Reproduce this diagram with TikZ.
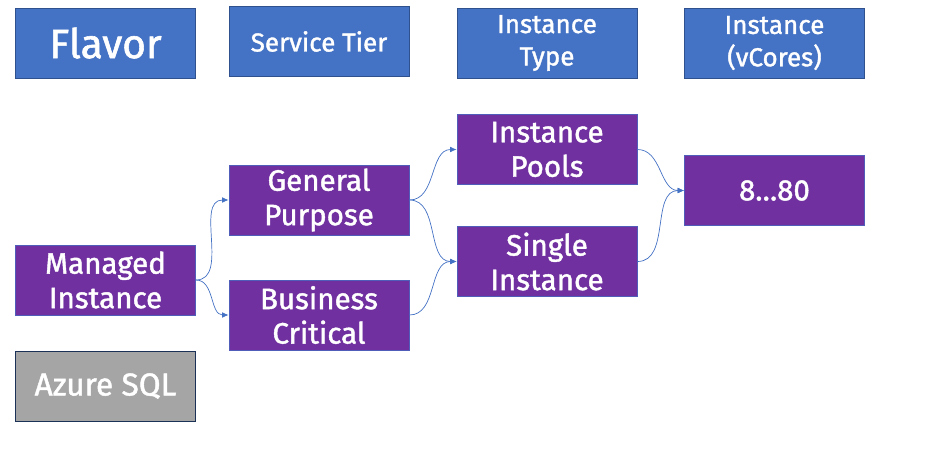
\documentclass[tikz,border=0pt]{standalone}
\usepackage{fontspec}
\setmainfont{Fira Sans}[FakeBold=1.4, AutoFakeBold=1.4]
\usetikzlibrary{arrows.meta, positioning}
\definecolor{hdrblue}{HTML}{4472C4}
\definecolor{hdredge}{HTML}{2F528F}
\definecolor{tierpurple}{HTML}{7030A0}
\definecolor{sqlgray}{HTML}{A5A5A5}
\tikzset{
	box/.style={rectangle, minimum width=4.5cm, minimum height=1.75cm, inner sep=0pt, align=center, text=white, line width=0.6pt},
	header/.style={box, fill=hdrblue, draw=hdredge, font=\bfseries\fontsize{18.5}{23}\selectfont},
	choice/.style={box, fill=tierpurple, draw=hdrblue!70!tierpurple, font=\bfseries\fontsize{21}{24.5}\selectfont},
	flow/.style={-{Latex[length=1.6mm,width=1.4mm]}, draw=hdrblue, line width=0.5pt}
}

\begin{document}
\begin{tikzpicture}[x=0.025cm, y=-0.025cm]% Azure SQL Managed Instance choices
	\useasboundingbox (0,0) rectangle (948,468);
	% header row
	\node[header, font=\bfseries\fontsize{29}{30}\selectfont] (flavor) at (105.5,43) {Flavor};
	\node[header] (tier) at (319,41.5) {Service Tier};
	\node[header] (type) at (547,43) {Instance\\Type};
	\node[header] (vcores) at (774.5,43) {Instance\\(vCores)};
	% choices
	\node[choice] (managed) at (105.5,280) {Managed\\Instance};
	\node[box, fill=sqlgray, draw=hdredge!60!black, font=\bfseries\fontsize{22.5}{24}\selectfont] (azure) at (105.5,386) {Azure SQL};
	\node[choice] (general) at (319,200) {General\\Purpose};
	\node[choice] (business) at (319,315) {Business\\Critical};
	\node[choice] (pools) at (547,149.5) {Instance\\Pools};
	\node[choice] (single) at (547,261.5) {Single\\Instance};
	\node[choice] (range) at (774.5,190.5) {8\ldots80};
	% connectors
	\draw[flow] (managed.east) to[out=0, in=180] (general.west);
	\draw[flow] (managed.east) to[out=0, in=180] (business.west);
	\draw[flow] (general.east) to[out=0, in=180] (pools.west);
	\draw[flow] (general.east) to[out=0, in=180] (single.west);
	\draw[flow] (business.east) to[out=0, in=180] (single.west);
	\draw[flow] (pools.east) to[out=0, in=180] (range.west);
	\draw[flow] (single.east) to[out=0, in=180] (range.west);
\end{tikzpicture}
\end{document}
